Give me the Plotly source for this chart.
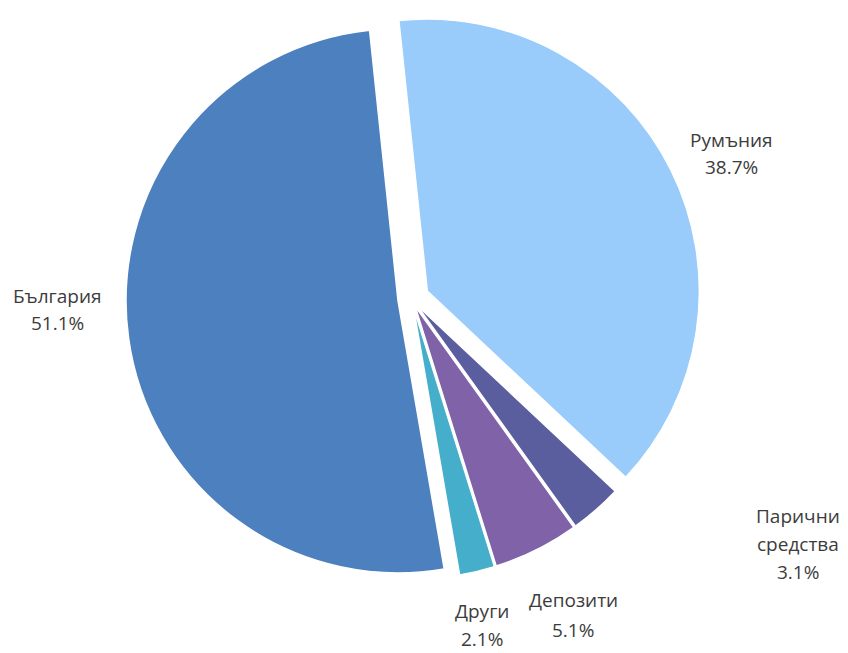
import plotly.graph_objects as go

labels = ["Румъния", "Парични средства", "Депозити", "Други", "България"]
values = [38.7, 3.1, 5.1, 2.1, 51.1]
colors = ["#99CBFB", "#5A5E9E", "#7F62A8", "#45AECA", "#4C80BE"]
pulls = [0.065, 0.03, 0.03, 0.03, 0.05]

# label line centres in window pixels (x, first-line y, line gap)
label_pos = [(731, 140, 27), (798, 516, 28), (573, 600, 30), (482, 611, 28), (57, 296, 27)]

OFF = 8                      # default body margin of the html page
W, H = 848 - OFF, 653 - OFF

fig = go.Figure()
fig.add_trace(go.Pie(
    labels=labels, values=values, sort=False, direction="clockwise",
    rotation=-6, pull=pulls, textinfo="none", hoverinfo="label+percent",
    marker=dict(colors=colors, line=dict(color="white", width=1.5)),
    showlegend=False,
    domain=dict(x=[113.8 / W, 693.2 / W], y=[(H - 580.7) / H, (H - 1.3) / H]),
))

for lab, val, (px, py, gap) in zip(labels, values, label_pos):
    lines = lab.split(" ") + [f"{val:.1f}%"]
    for i, line in enumerate(lines):
        fig.add_annotation(
            x=(px - OFF) / W, y=1 - (py + i * gap - OFF) / H,
            xref="paper", yref="paper",
            showarrow=False, text=line, xanchor="center", yanchor="middle",
            font=dict(family="Open Sans", size=19, color="#3c3c3c"),
        )

fig.update_layout(
    width=W, height=H, margin=dict(l=0, r=0, t=0, b=0),
    paper_bgcolor="white", plot_bgcolor="white",
)
fig.write_html("out.html")
